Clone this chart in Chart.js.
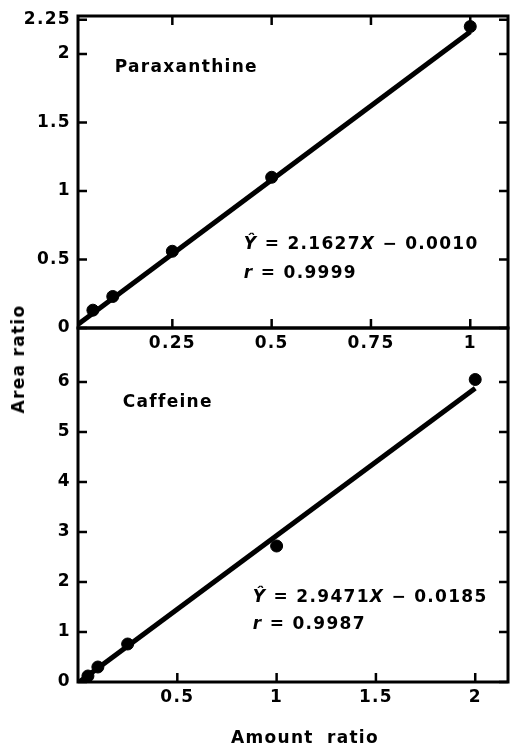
<!DOCTYPE html>
<html>
<head>
<meta charset="utf-8">
<script src="https://cdn.jsdelivr.net/npm/chart.js@4.4.0/dist/chart.umd.min.js"></script>
<style>
  body { margin: 0; background: #fff; }
  #wrap { position: relative; width: 515px; height: 746px; overflow: hidden; }
  canvas { position: absolute; left: 0; }
  #topChart { top: 0; }
  #bottomChart { top: 320px; }
  .title { position: absolute; font-family: "DejaVu Sans"; font-weight: bold; font-size: 17px;
           letter-spacing: 1.3px; color: #000; white-space: nowrap; }
  #yTitle { left: 18px; top: 359px; transform: translate(-50%, -50%) rotate(-90deg); }
  #xTitle { left: 305px; top: 737px; transform: translate(-50%, -50%); word-spacing: 6px; }
</style>
</head>
<body>
<div id="wrap">
  <canvas id="topChart" width="515" height="360"></canvas>
  <canvas id="bottomChart" width="515" height="426"></canvas>
  <div class="title" id="yTitle">Area ratio</div>
  <div class="title" id="xTitle">Amount ratio</div>
</div>
<script>
// Paraxanthine (upper panel)
const paraX = [0.05, 0.1, 0.25, 0.5, 1];
const paraY = [0.13, 0.23, 0.56, 1.1, 2.2];
const paraFitX = [0, 1];
const paraFitY = [-0.001, 2.1617];
const paraXTicks = [0.25, 0.5, 0.75, 1];
const paraYTicks = [0, 0.5, 1, 1.5, 2, 2.25];

// Caffeine (lower panel)
const cafX = [0.05, 0.1, 0.25, 1, 2];
const cafY = [0.12, 0.3, 0.76, 2.72, 6.05];
const cafFitX = [0, 2];
const cafFitY = [-0.0185, 5.8757];
const cafXTicks = [0.5, 1, 1.5, 2];
const cafYTicks = [0, 1, 2, 3, 4, 5, 6];

const FONT = '"DejaVu Sans"';

function toPoints(xs, ys) {
    return xs.map((x, i) => ({ x: x, y: ys[i] }));
}

// no automatic padding from the tick labels, the frame is placed by hand
function noPad(s) {
    s.paddingTop = 0;
    s.paddingBottom = 0;
    s.paddingLeft = 0;
    s.paddingRight = 0;
}

// frame with inward ticks on all sides, plus the text notes
const framePlugin = {
    id: 'frame',
    beforeDraw(chart) {
        chart.ctx.letterSpacing = '1.3px';
    },
    afterDraw(chart, args, opts) {
        const ctx = chart.ctx;
        const a = chart.chartArea;
        const xs = chart.scales.x;
        const ys = chart.scales.y;
        ctx.save();
        ctx.strokeStyle = '#000';
        ctx.lineWidth = 3;
        ctx.strokeRect(a.left, a.top, a.right - a.left, a.bottom - a.top);

        ctx.lineWidth = 2.5;
        ctx.beginPath();
        opts.xTicks.forEach(v => {
            const p = xs.getPixelForValue(v);
            ctx.moveTo(p, a.bottom);
            ctx.lineTo(p, a.bottom - 9);
            if (opts.topTicks) {
                ctx.moveTo(p, a.top);
                ctx.lineTo(p, a.top + 9);
            }
        });
        opts.yTicks.forEach(v => {
            const p = ys.getPixelForValue(v);
            ctx.moveTo(a.left, p);
            ctx.lineTo(a.left + 9, p);
            ctx.moveTo(a.right, p);
            ctx.lineTo(a.right - 9, p);
        });
        ctx.stroke();

        // notes
        ctx.fillStyle = '#000';
        ctx.textBaseline = 'middle';
        ctx.textAlign = 'left';
        opts.notes.forEach(n => {
            let px = xs.getPixelForValue(n.x);
            const py = ys.getPixelForValue(n.y);
            n.parts.forEach(part => {
                ctx.font = part[1] + ' bold 17px ' + FONT;
                ctx.fillText(part[0], px, py);
                px += ctx.measureText(part[0]).width;
            });
        });
        ctx.restore();
    }
};

function makeChart(id, cfg) {
    const tickFont = { family: FONT, size: 17, weight: 'bold' };
    return new Chart(document.getElementById(id), {
        type: 'scatter',
        data: {
            datasets: [{
                data: toPoints(cfg.xs, cfg.ys),
                backgroundColor: '#000',
                borderColor: '#000',
                pointRadius: 6,
                pointHoverRadius: 6
            }, {
                type: 'line',
                data: toPoints(cfg.fitX, cfg.fitY),
                borderColor: '#000',
                borderWidth: 5,
                pointRadius: 0,
                fill: false
            }]
        },
        options: {
            responsive: false,
            animation: false,
            devicePixelRatio: 1,
            layout: { padding: { left: 0, top: cfg.padTop, right: 4, bottom: 0 } },
            plugins: {
                legend: { display: false },
                tooltip: { enabled: false },
                frame: { xTicks: cfg.xTicks, yTicks: cfg.yTicks, topTicks: cfg.topTicks, notes: cfg.notes }
            },
            scales: {
                x: {
                    type: 'linear',
                    min: cfg.xMin,
                    max: cfg.xMax,
                    afterBuildTicks: s => { s.ticks = cfg.xTicks.map(v => ({ value: v })); },
                    afterFit: s => { s.height = cfg.xAxisHeight; noPad(s); },
                    grid: { display: false, drawTicks: false },
                    border: { display: false },
                    ticks: { padding: 5, font: tickFont, color: '#000', maxRotation: 0, autoSkip: false,
                             callback: v => String(v) }
                },
                y: {
                    type: 'linear',
                    min: 0,
                    max: cfg.yMax,
                    afterBuildTicks: s => { s.ticks = cfg.yTicks.map(v => ({ value: v })); },
                    afterFit: s => { s.width = 78; noPad(s); },
                    grid: { display: false, drawTicks: false },
                    border: { display: false },
                    ticks: { padding: 7, font: tickFont, color: '#000', autoSkip: false,
                             callback: v => String(v) }
                }
            }
        },
        plugins: [framePlugin]
    });
}

makeChart('topChart', {
    xs: paraX, ys: paraY, fitX: paraFitX, fitY: paraFitY,
    xTicks: paraXTicks, yTicks: paraYTicks,
    xMin: 0.0125, xMax: 1.095, yMax: 2.277,
    padTop: 16, xAxisHeight: 32, topTicks: true,
    notes: [
        { x: 0.105, y: 1.9, parts: [['Paraxanthine', '']] },
        { x: 0.43, y: 0.606, parts: [['Ŷ', 'italic'], [' = 2.1627', ''], ['X', 'italic'], [' − 0.0010', '']] },
        { x: 0.43, y: 0.40, parts: [['r', 'italic'], [' = 0.9999', '']] }
    ]
});

makeChart('bottomChart', {
    xs: cafX, ys: cafY, fitX: cafFitX, fitY: cafFitY,
    xTicks: cafXTicks, yTicks: cafYTicks,
    xMin: 0, xMax: 2.165, yMax: 7.08,
    padTop: 8, xAxisHeight: 64, topTicks: false,
    notes: [
        { x: 0.225, y: 5.58, parts: [['Caffeine', '']] },
        { x: 0.88, y: 1.68, parts: [['Ŷ', 'italic'], [' = 2.9471', ''], ['X', 'italic'], [' − 0.0185', '']] },
        { x: 0.88, y: 1.14, parts: [['r', 'italic'], [' = 0.9987', '']] }
    ]
});
</script>
</body>
</html>
